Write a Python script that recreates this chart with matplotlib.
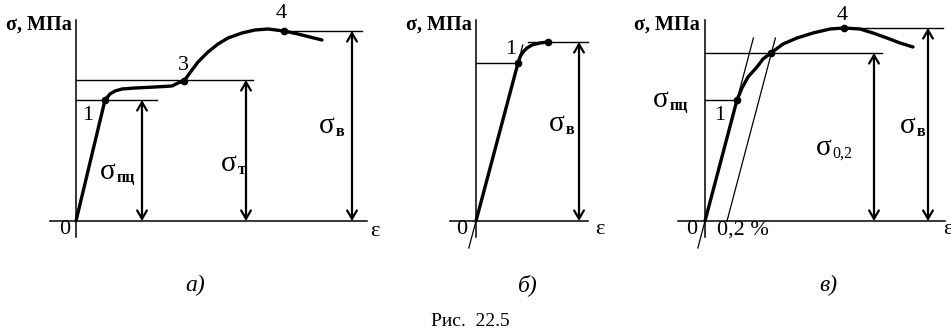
import matplotlib.pyplot as plt

plt.rcParams['font.family'] = ['Liberation Serif', 'DejaVu Serif']

W, H = 951, 335

# panel a): stress-strain curve with yield plateau (eps, sigma in schematic units)
a_eps = [0, 29, 34, 39, 46, 59, 79, 96, 102, 108, 116, 122, 132, 142, 152, 166, 179, 192, 208, 222, 234, 246]
a_sig = [0, 121, 127, 130, 132, 133, 134, 135, 138, 140, 151, 159, 169, 177, 183, 188, 191, 192, 190, 187, 184, 181]
a_pts = {'1': (29, 121), '3': (108, 140), '4': (208, 190)}

# panel b): brittle material
b_eps = [0, 42, 44, 47, 51, 56, 64, 72]
b_sig = [0, 158, 164, 169, 173, 176, 178, 179]
b_pts = {'1': (42, 158), 'top': (72, 179)}

# panel c): no yield plateau, 0.2 % offset
c_eps = [0, 32, 37, 43, 52, 58, 66, 78, 92, 108, 125, 139, 155, 168, 182, 195, 208]
c_sig = [0, 121, 133, 144, 154, 162, 168, 177, 183, 188, 192, 193, 192, 188, 183, 178, 174]
c_pts = {'1': (32, 121), 'y02': (66, 168), '4': (139, 193)}
c_offset = 22

fig = plt.figure(figsize=(W / 100, H / 100), dpi=100)


def panel(ox, oy):
    ax = fig.add_axes([0, 0, 1, 1])
    ax.set_xlim(-ox, W - ox)
    ax.set_ylim(oy - H, oy)
    ax.axis('off')
    ax.patch.set_alpha(0)
    return ax


def axes_lines(ax, xl, xr):
    ax.plot([xl, xr], [0, 0], color='black', lw=1.1)
    ax.plot([0, 0], [-16, 201], color='black', lw=1.1)


def hline(ax, y, x0, x1):
    ax.plot([x0, x1], [y, y], color='black', lw=1.0)


def arrow(ax, x, y):
    ax.annotate('', xy=(x, y), xytext=(x, 0),
                arrowprops=dict(arrowstyle='<->,head_length=0.6,head_width=0.35',
                                color='black', lw=1.6, shrinkA=0, shrinkB=0))


def sig_label(ax, x, y, sub, bold=True):
    ax.text(x, y, 'σ', fontsize=21, ha='right', va='baseline')
    ax.annotate(sub, xy=(x, y), xytext=(0.5, -2), textcoords='offset points',
                fontsize=11.5, fontweight='bold' if bold else 'normal',
                ha='left', va='baseline')


def dot(ax, p):
    ax.plot([p[0]], [p[1]], 'o', color='black', ms=4.5)


def title_text(ax, x):
    ax.text(x, 196, 'σ, МПа', fontsize=14.5, fontweight='bold', ha='right', va='center')


def curve(ax, xs, ys):
    ax.plot(xs, ys, color='black', lw=2.4, solid_capstyle='round', solid_joinstyle='round')


# ---- a)
ax = panel(76, 221)
axes_lines(ax, -26, 291)
curve(ax, a_eps, a_sig)
hline(ax, 141, 0, 177)
hline(ax, 121, 0, 81)
hline(ax, 190, 208, 286)
for k in a_pts:
    dot(ax, a_pts[k])
arrow(ax, 66, 121)
arrow(ax, 170, 141)
arrow(ax, 276, 190)
title_text(ax, -4)
ax.text(-11, -9, '0', fontsize=16, ha='center', va='center')
ax.text(299, -11, 'ε', fontsize=16, ha='center', va='center')
ax.text(12, 106, '1', fontsize=16, ha='center', va='center')
ax.text(107, 155, '3', fontsize=16, ha='center', va='center')
ax.text(205, 208, '4', fontsize=16, ha='center', va='center')
sig_label(ax, 40, 42, 'пц')
sig_label(ax, 161, 50, 'т')
sig_label(ax, 259, 88, 'в')

# ---- б)
ax = panel(476, 221)
axes_lines(ax, -26, 112)
k_b = b_pts['1'][0] / b_pts['1'][1]
ax.plot([-27 * k_b, 176 * k_b], [-27, 176], color='black', lw=0.9)
curve(ax, b_eps, b_sig)
hline(ax, 158, 0, 42)
hline(ax, 179, 52, 112)
for k in b_pts:
    dot(ax, b_pts[k])
arrow(ax, 103, 179)
title_text(ax, -4)
ax.text(-14, -9, '0', fontsize=16, ha='center', va='center')
ax.text(124, -9, 'ε', fontsize=16, ha='center', va='center')
ax.text(35, 171, '1', fontsize=16, ha='center', va='center')
sig_label(ax, 89, 90, 'в')

# ---- в)
ax = panel(705, 221)
axes_lines(ax, -27, 240)
k_c = c_pts['1'][0] / c_pts['1'][1]
ax.plot([-27 * k_c, 183 * k_c], [-27, 183], color='black', lw=0.9)
ax.plot([c_offset, c_offset + 183 * k_c], [0, 183], color='black', lw=0.9)
curve(ax, c_eps, c_sig)
hline(ax, 168, 0, 177)
hline(ax, 121, 0, 32)
hline(ax, 193, 139, 238)
for k in c_pts:
    dot(ax, c_pts[k])
arrow(ax, 169, 168)
arrow(ax, 223, 193)
title_text(ax, -5)
ax.text(-13, -9, '0', fontsize=16, ha='center', va='center')
ax.text(38, -9, '0,2 %', fontsize=16, ha='center', va='center')
ax.text(243, -9, 'ε', fontsize=16, ha='center', va='center')
ax.text(137, 206, '4', fontsize=16, ha='center', va='center')
ax.text(15, 106, '1', fontsize=16, ha='center', va='center')
sig_label(ax, -36, 114, 'пц')
sig_label(ax, 127, 66, '0,2', bold=False)
sig_label(ax, 211, 88, 'в')

# captions
for lab, x in [('а)', 195), ('б)', 528), ('в)', 828)]:
    fig.text(x / W, 1 - 285 / H, lab, fontsize=17, style='italic', ha='center', va='center')
fig.text(470 / W, 1 - 321 / H, 'Рис.  22.5', fontsize=14, ha='center', va='center')

fig.savefig('out.png', dpi=100, facecolor='white')
